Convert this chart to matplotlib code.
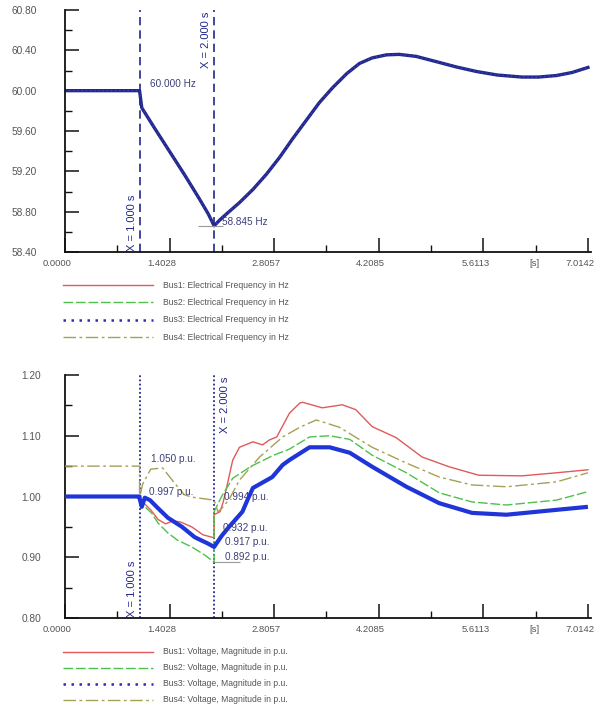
import matplotlib
matplotlib.use("Agg")
import matplotlib.pyplot as plt
from matplotlib.lines import Line2D
from matplotlib.transforms import ScaledTranslation

plt.rcParams['font.family'] = ['Liberation Sans', 'DejaVu Sans']

# ---------------- data ----------------
x_ticks = [0.0, 1.4028, 2.8057, 4.2085, 5.6113, 7.0142]
x_tick_labels = ["0.0000", "1.4028", "2.8057", "4.2085", "5.6113", "7.0142"]
x_minor = [0.7014, 2.1043, 3.5071, 4.9099, 6.3128]
x_unit_pos = 6.3128
x_unit_label = "[s]"

f_ticks = [58.4, 58.8, 59.2, 59.6, 60.0, 60.4, 60.8]
f_tick_labels = ["58.40", "58.80", "59.20", "59.60", "60.00", "60.40", "60.80"]
f_minor = [58.6, 59.0, 59.4, 59.8, 60.2, 60.6]

v_ticks = [0.8, 0.9, 1.0, 1.1, 1.2]
v_tick_labels = ["0.80", "0.90", "1.00", "1.10", "1.20"]
v_minor = [0.85, 0.95, 1.05, 1.15]

event_times = [1.0, 2.0]
event_labels = ["X = 1.000 s", "X = 2.000 s"]

bus_names = ["Bus1", "Bus2", "Bus3", "Bus4"]

# frequency (all four buses coincide)
freq_t = [0.0, 1.0, 1.03, 1.2, 1.4, 1.6, 1.8, 1.92, 2.0, 2.08, 2.17, 2.34, 2.52,
          2.70, 2.88, 3.05, 3.24, 3.41, 3.59, 3.78, 3.95, 4.12, 4.31, 4.48, 4.71,
          5.02, 5.25, 5.52, 5.8, 6.13, 6.35, 6.59, 6.8, 7.0142]
freq_hz = [60.0, 60.0, 59.83, 59.63, 59.40, 59.17, 58.93, 58.78, 58.66, 58.72,
           58.78, 58.89, 59.02, 59.17, 59.34, 59.52, 59.71, 59.88, 60.03, 60.17,
           60.27, 60.325, 60.355, 60.36, 60.34, 60.28, 60.235, 60.19, 60.155,
           60.135, 60.135, 60.15, 60.18, 60.23]

# voltages
v1_t = [0.0, 1.0, 1.0, 1.05, 1.15, 1.25, 1.35, 1.45, 1.55, 1.70, 1.85, 2.0, 2.0,
        2.08, 2.12, 2.17, 2.25, 2.34, 2.52, 2.65, 2.74, 2.84, 3.01, 3.15, 3.19,
        3.45, 3.72, 3.9, 4.12, 4.44, 4.79, 5.15, 5.55, 6.13, 6.59, 7.0142]
v1 = [1.0, 1.0, 0.997, 0.99, 0.978, 0.962, 0.955, 0.96, 0.958, 0.95, 0.937,
      0.932, 0.97, 0.975, 0.99, 1.016, 1.06, 1.081, 1.09, 1.085, 1.093, 1.098,
      1.137, 1.154, 1.155, 1.146, 1.151, 1.143, 1.115, 1.097, 1.065, 1.049,
      1.035, 1.034, 1.039, 1.044]

v2_t = [0.0, 1.0, 1.02, 1.07, 1.16, 1.25, 1.38, 1.51, 1.70, 1.87, 2.0, 2.0, 2.1,
        2.25, 2.5, 2.8, 3.01, 3.28, 3.55, 3.82, 4.12, 4.58, 5.02, 5.46, 5.92,
        6.59, 7.0142]
v2 = [1.0, 1.0, 0.99, 0.983, 0.973, 0.956, 0.94, 0.928, 0.917, 0.904, 0.892,
      0.975, 1.0, 1.03, 1.05, 1.068, 1.078, 1.098, 1.1, 1.094, 1.068, 1.039,
      1.006, 0.991, 0.986, 0.994, 1.008]

v3_t = [0.0, 1.0, 1.0, 1.03, 1.07, 1.14, 1.245, 1.38, 1.57, 1.74, 1.91, 2.0,
        2.1, 2.2, 2.28, 2.38, 2.45, 2.52, 2.78, 2.92, 3.01, 3.28, 3.55, 3.82,
        4.12, 4.58, 5.02, 5.46, 5.92, 6.59, 7.0142]
v3 = [1.0, 1.0, 0.997, 0.983, 0.998, 0.994, 0.981, 0.965, 0.95, 0.933, 0.923,
      0.917, 0.935, 0.95, 0.961, 0.975, 0.995, 1.014, 1.032, 1.052, 1.06, 1.081,
      1.081, 1.072, 1.049, 1.016, 0.989, 0.973, 0.970, 0.978, 0.983]

v4_t = [0.0, 1.0, 1.0, 1.04, 1.15, 1.31, 1.47, 1.6, 1.7, 2.0, 2.05, 2.1, 2.2,
        2.34, 2.61, 2.92, 3.15, 3.37, 3.68, 4.12, 4.58, 5.02, 5.46, 5.92, 6.59,
        7.0142]
v4 = [1.05, 1.05, 0.997, 1.02, 1.045, 1.047, 1.022, 1.003, 0.999, 0.994, 0.975,
      0.98, 0.995, 1.027, 1.065, 1.098, 1.114, 1.126, 1.114, 1.081, 1.055, 1.032,
      1.019, 1.016, 1.024, 1.039]

freq_ann_t = [1.0, 2.0]
freq_ann_v = [60.0, 58.66]
freq_ann_text = ["60.000 Hz", "58.845 Hz"]

volt_ann_t = [1.0, 1.0, 2.0, 2.0, 2.0, 2.0]
volt_ann_v = [1.05, 0.997, 0.994, 0.932, 0.917, 0.892]
volt_ann_text = ["1.050 p.u.", "0.997 p.u.", "0.994 p.u.", "0.932 p.u.",
                 "0.917 p.u.", "0.892 p.u."]

freq_legend = [f"{b}: Electrical Frequency in Hz" for b in bus_names]
volt_legend = [f"{b}: Voltage, Magnitude in p.u." for b in bus_names]

# ---------------- styles ----------------
C_RED = "#e05a5a"
C_GREEN = "#4cc24c"
C_BLUE = "#2b2fb8"
C_OLIVE = "#a6a055"
C_NAVY = "#23288a"
TXT = "#555555"
ANN = "#3c3f78"

styles = [
    dict(color=C_RED, ls="-", lw=1.0),
    dict(color=C_GREEN, ls=(0, (7, 2)), lw=1.0),
    dict(color=C_BLUE, ls=(0, (1.0, 2.2)), lw=1.8),
    dict(color=C_OLIVE, ls=(0, (9, 2.5, 2, 2.5)), lw=1.0),
]

W, H = 595, 711
fig = plt.figure(figsize=(W / 100, H / 100), dpi=100)

x0px, x1px = 65, 590.6
ax1 = fig.add_axes([x0px / W, 1 - 252 / H, (x1px - x0px) / W, 242 / H])
ax2 = fig.add_axes([x0px / W, 1 - 618 / H, (x1px - x0px) / W, 243 / H])

FSX = 6.8
FSY = 7.3
FSL = 6.2
FSA = 7.2
FSE = 8.0


def style_axes(ax, yticks, ylabels, yminor, ylim, ypad):
    ax.set_xlim(0, 7.05)
    ax.set_ylim(*ylim)
    for s in ("top", "right"):
        ax.spines[s].set_visible(False)
    for s in ("left", "bottom"):
        ax.spines[s].set_linewidth(1.3)
        ax.spines[s].set_color("#111111")
    ax.set_xticks(x_ticks)
    ax.set_xticks(x_minor, minor=True)
    ax.set_yticks(yticks)
    ax.set_yticks(yminor, minor=True)
    ax.tick_params(which="major", direction="in", length=10, width=1.1,
                   colors="#111111", labelcolor=TXT)
    ax.tick_params(which="minor", direction="in", length=5, width=1.0,
                   colors="#111111")
    ax.tick_params(axis="x", which="major", pad=5, labelsize=FSX)
    ax.tick_params(axis="y", which="major", pad=ypad, labelsize=FSY)
    ax.set_xticklabels(x_tick_labels)
    ax.set_yticklabels(ylabels)
    shift = ScaledTranslation(-8 / 100, 0, fig.dpi_scale_trans)
    for lab in ax.get_xticklabels():
        lab.set_transform(lab.get_transform() + shift)
    ax.annotate(x_unit_label, xy=(x_unit_pos, 0), xycoords=ax.get_xaxis_transform(),
                xytext=(-1, -5), textcoords="offset points", ha="center", va="top",
                fontsize=FSX, color=TXT)


style_axes(ax1, f_ticks, f_tick_labels, f_minor, (58.4, 60.8), 20)
style_axes(ax2, v_ticks, v_tick_labels, v_minor, (0.8, 1.2), 17)

# ---------------- top: frequency ----------------
for i in (0, 1, 3):
    ax1.plot(freq_t, freq_hz, color=styles[i]["color"], ls="-", lw=1.2)
ax1.plot(freq_t, freq_hz, color=C_NAVY, ls="-", lw=2.4)
ax1.plot(freq_t, freq_hz, color="#3a3fc0", ls=(0, (1.0, 2.0)), lw=1.0)

for t in event_times:
    ax1.axvline(t, color=C_NAVY, ls=(0, (5, 3)), lw=1.2)

# ---------------- bottom: voltage ----------------
ax2.plot(v1_t, v1, color=C_RED, lw=1.0, zorder=3)
ax2.plot(v2_t, v2, color=C_GREEN, ls=(0, (7, 2)), lw=1.0, zorder=3)
ax2.plot(v4_t, v4, color=C_OLIVE, ls=(0, (9, 2.5, 2, 2.5)), lw=1.0, zorder=3)
ax2.plot(v3_t, v3, color="#1f35d8", lw=3.0, zorder=3.5, solid_capstyle="butt")

for t in event_times:
    ax2.axvline(t, color=C_NAVY, ls=(0, (1.0, 1.3)), lw=1.3)

# event labels
off = lambda dx, dy: ScaledTranslation(dx / 100, dy / 100, fig.dpi_scale_trans)
ax1.text(event_times[0], 58.41, event_labels[0], rotation=90, ha="right", va="bottom",
         fontsize=FSE, color=C_NAVY, transform=ax1.transData + off(-3, 0))
ax1.text(event_times[1], 60.78, event_labels[1], rotation=90, ha="right", va="top",
         fontsize=FSE, color=C_NAVY, transform=ax1.transData + off(-3, 0))
ax2.text(event_times[0], 0.801, event_labels[0], rotation=90, ha="right", va="bottom",
         fontsize=FSE, color=C_NAVY, transform=ax2.transData + off(-3, 0))
ax2.text(event_times[1], 1.197, event_labels[1], rotation=90, ha="left", va="top",
         fontsize=FSE, color=C_NAVY, transform=ax2.transData + off(6, 0))

# value annotations
freq_offsets = [(10, 7), (8, 4)]
for t, v, s, (dx, dy) in zip(freq_ann_t, freq_ann_v, freq_ann_text, freq_offsets):
    ax1.annotate(s, xy=(t, v), xytext=(dx, dy), textcoords="offset pixels",
                 ha="left", va="center", fontsize=FSA, color=ANN)
ax1.hlines(freq_ann_v[1], freq_ann_t[1] - 0.22, freq_ann_t[1] + 0.12,
           color="#9a9a9a", lw=0.8)

volt_offsets = [(11, 7), (9, 6), (10, 3), (9, 10), (11, 5), (11, 5)]
for t, v, s, (dx, dy) in zip(volt_ann_t, volt_ann_v, volt_ann_text, volt_offsets):
    ax2.annotate(s, xy=(t, v), xytext=(dx, dy), textcoords="offset pixels",
                 ha="left", va="center", fontsize=FSA, color=ANN, zorder=5)
ax2.hlines(volt_ann_v[5], volt_ann_t[5], volt_ann_t[5] + 0.35, color="#9a9a9a", lw=0.8)

# ---------------- legends ----------------
def draw_legend(labels, ys):
    for st, lab, y in zip(styles, labels, ys):
        yf = 1 - y / H
        fig.add_artist(Line2D([63 / W, 153 / W], [yf, yf], transform=fig.transFigure,
                              color=st["color"], ls=st["ls"], lw=st["lw"]))
        fig.text(163 / W, yf, lab, ha="left", va="center", fontsize=FSL, color=TXT)


draw_legend(freq_legend, [285, 302, 320, 337])
draw_legend(volt_legend, [652, 668, 684, 700])

fig.savefig("out.png", dpi=100)
